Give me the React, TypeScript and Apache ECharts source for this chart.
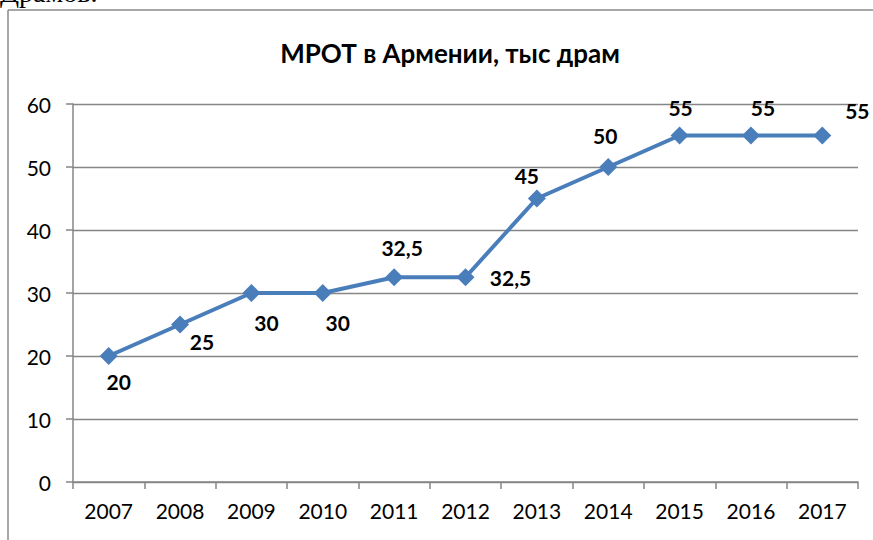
import React, { useEffect, useRef } from "react";
import * as echarts from "echarts";

const years = ["2007", "2008", "2009", "2010", "2011", "2012", "2013", "2014", "2015", "2016", "2017"];
const wages = [20, 25, 30, 30, 32.5, 32.5, 45, 50, 55, 55, 55];
const yTicks = [0, 10, 20, 30, 40, 50, 60];
const labelOffsets: [number, number][] = [
  [10, 25], [22, 17], [15, 29], [15, 29], [8, -30], [45, 0],
  [-10, -23], [-3, -32], [1, -28], [12, -28], [35, -25],
];

const FONT = "Lato, 'Open Sans', sans-serif";

export default function App() {
  const ref = useRef<HTMLDivElement>(null);
  useEffect(() => {
    document.body.style.margin = "0";
    const chart = echarts.init(ref.current!, null, { renderer: "svg" });
    chart.setOption({
      animation: false,
      backgroundColor: "#ffffff",
      title: {
        text: "МРОТ в Армении, тыс драм",
        left: 445,
        top: 35,
        textAlign: "center",
        textStyle: { fontFamily: FONT, fontSize: 26, fontWeight: "bold", color: "#000" },
      },
      graphic: [
        { type: "line", shape: { x1: 8, y1: 10, x2: 8, y2: 540 }, style: { stroke: "#8a8a8a", lineWidth: 1.5 } },
        { type: "line", shape: { x1: 8, y1: 10, x2: 873, y2: 10 }, style: { stroke: "#8a8a8a", lineWidth: 1.5 } },
        {
          type: "text", left: 0, top: -22,
          style: { text: "Драмов.", fontFamily: "'Liberation Serif', serif", fontSize: 28, fill: "#000" },
        },
      ],
      grid: { left: 73, right: 15, top: 104, bottom: 58 },
      xAxis: {
        type: "category",
        data: years,
        boundaryGap: true,
        axisLine: { lineStyle: { color: "#868686", width: 1.5 } },
        axisTick: { show: true, length: 7, lineStyle: { color: "#868686", width: 1.5 } },
        axisLabel: { fontFamily: FONT, fontSize: 21, color: "#000", margin: 18 },
      },
      yAxis: {
        type: "value",
        min: yTicks[0],
        max: yTicks[yTicks.length - 1],
        interval: 10,
        axisLine: { show: true, lineStyle: { color: "#868686", width: 1.5 } },
        axisTick: { show: true, length: 7, lineStyle: { color: "#868686", width: 1.5 } },
        axisLabel: { fontFamily: FONT, fontSize: 21, color: "#000", margin: 22 },
        splitLine: { show: true, lineStyle: { color: "#868686", width: 1.3 } },
      },
      series: [
        {
          type: "line",
          data: wages.map((v, i) => ({
            value: v,
            label: { offset: labelOffsets[i] },
          })),
          symbol: "diamond",
          symbolSize: 18,
          lineStyle: { color: "#4a7ebb", width: 4 },
          itemStyle: { color: "#4a7ebb" },
          label: {
            show: true,
            position: "inside",
            fontFamily: FONT,
            fontSize: 21,
            fontWeight: "bold",
            color: "#000",
            formatter: (p: any) => String(p.value).replace(".", ","),
          },
        },
      ],
    });
    return () => chart.dispose();
  }, []);
  return <div ref={ref} style={{ width: 873, height: 540 }} />;
}
